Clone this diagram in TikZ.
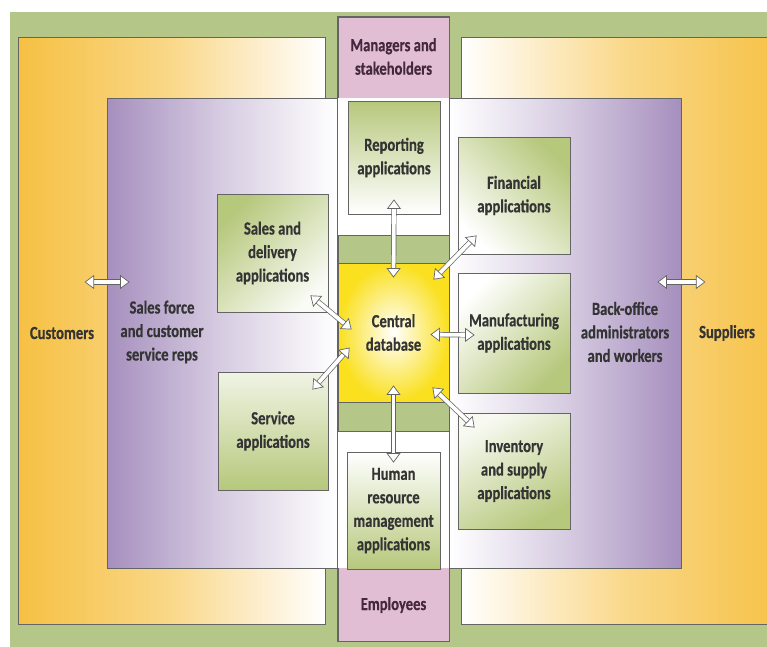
\documentclass[tikz,border=0pt]{standalone}
\usepackage{fontspec}
\setmainfont{Carlito}[FakeStretch=0.79,BoldFeatures={FakeBold=0.5}]
\usetikzlibrary{arrows.meta}

\definecolor{bggreen}{RGB}{180,198,136}
\definecolor{custorange}{RGB}{246,192,66}
\definecolor{salepurple}{RGB}{166,143,190}
\definecolor{staffpink}{RGB}{226,190,213}
\definecolor{appgreen}{RGB}{182,200,124}
\definecolor{dbyellow}{RGB}{250,224,30}
\definecolor{linegray}{RGB}{100,100,100}
\definecolor{txtgray}{RGB}{52,52,52}
\definecolor{txtplum}{RGB}{68,40,62}

\begin{document}
\begin{tikzpicture}
[x=1pt,y=-1pt,
 box/.style={draw=linegray,line width=0.8pt,inner sep=0pt},
 app/.style={box,minimum width=111pt,font=\fontsize{18.5}{23.5}\selectfont\bfseries,text=txtgray,align=center},
 lbl/.style={font=\fontsize{18.5}{23.5}\selectfont\bfseries,text=txtgray,align=center,inner sep=0pt},
 link/.style={draw=linegray,line width=0.7pt,double=white,double distance=3.8pt,{Triangle[fill=white,length=9.5pt,width=14pt,line width'=0.7pt]}-{Triangle[fill=white,length=9.5pt,width=14pt,line width'=0.7pt]}}]
\fill[white] (0,0) rectangle (767,646);
\useasboundingbox (0,0) rectangle (767,646);
\clip (0,0) rectangle (767,646);
\fill[bggreen] (10,12) rectangle (780,660);

% outer partners
\node[box,minimum width=307pt,minimum height=587pt,left color=custorange,right color=white,middle color=custorange!62!white] (custbox) at (171.5,330.5) {};
\node[box,minimum width=329pt,minimum height=587pt,left color=white,right color=custorange,middle color=custorange!62!white] (suppbox) at (625.5,330.5) {};

% staff column
\node[box,fill=staffpink,minimum width=111pt,minimum height=624pt] (staff) at (393.5,329) {};

% front and back office
\node[box,minimum width=231pt,minimum height=470pt,left color=salepurple,right color=white,middle color=salepurple!45!white] (repbox) at (222.5,333) {};
\node[box,minimum width=232pt,minimum height=470pt,left color=white,right color=salepurple,middle color=salepurple!45!white] (backbox) at (565,333) {};
\fill[white] (338,98) rectangle (449,568);
\draw[linegray,line width=0.8pt] (staff.north west) rectangle (staff.south east);

\node[box,fill=bggreen,minimum width=111pt,minimum height=28pt] (bandtop) at (393.5,249) {};
\node[box,fill=bggreen,minimum width=111pt,minimum height=29pt] (bandbot) at (393.5,416.5) {};

% central database
\node[box,minimum width=111pt,minimum height=139pt,inner color=white,outer color=dbyellow,
  font=\fontsize{18.5}{23.5}\selectfont\bfseries,text=txtgray,align=center] (db) at (393.5,332.5) {Central\\database};

% applications
\node[app,minimum width=92pt,minimum height=113pt,top color=appgreen,bottom color=white] (report) at (394,157.5) {Reporting\\applications};
\node[app,minimum width=93pt,minimum height=117pt,top color=white,bottom color=appgreen] (hrm) at (393.5,510.5) {Human\\resource\\management\\applications};
\node[app,minimum height=118pt,top color=appgreen,bottom color=white!92!appgreen,shading angle=45] (sales) at (272.5,253) {Sales and\\delivery\\applications};
\node[app,minimum width=110pt,minimum height=118pt,top color=white!80!appgreen,bottom color=appgreen] (service) at (273,431) {Service\\applications};
\node[app,minimum width=112pt,minimum height=117pt,top color=appgreen,bottom color=white,shading angle=-45] (finance) at (514,195.5) {Financial\\applications};
\node[app,minimum width=112pt,minimum height=120pt,top color=white,bottom color=appgreen,shading angle=45] (mfg) at (514,333) {Manufacturing\\applications};
\node[app,minimum width=112pt,minimum height=116pt,top color=white!90!appgreen,bottom color=appgreen,shading angle=30] (inv) at (514,471) {Inventory\\and supply\\applications};

% labels
\node[lbl,text=txtplum] (managers) at (393.5,56.5) {Managers and\\stakeholders};
\node[lbl,text=txtplum] (employees) at (393.5,605) {Employees};
\node[lbl] (customers) at (62,333) {Customers};
\node[lbl] (salesforce) at (162,332) {Sales force\\and customer\\service reps};
\node[lbl] (backoffice) at (625,332) {Back-office\\administrators\\and workers};
\node[lbl] (suppliers) at (727,333) {Suppliers};

% flows
\draw[link] ([shift={(-22,-51)}]repbox.west) -- ([shift={(23,-51)}]repbox.west);
\draw[link] ([shift={(-24,-51)}]backbox.east) -- ([shift={(24,-51)}]backbox.east);
\draw[link] ([shift={(0,-15)}]report.south) -- ([shift={(0,15)}]db.north);
\draw[link] ([shift={(19,-19)}]finance.south west) -- ([shift={(-16,17)}]db.north east);
\draw[link] ([shift={(-18,-17)}]sales.south east) -- ([shift={(14,-3)}]db.west);
\draw[link] ([shift={(-16,18)}]service.north east) -- ([shift={(12,15)}]db.west);
\draw[link] ([shift={(-19,2)}]db.east) -- ([shift={(17,2)}]mfg.west);
\draw[link] ([shift={(-17,-15)}]db.south east) -- ([shift={(17,15)}]inv.north west);
\draw[link] ([shift={(0,-17)}]db.south) -- ([shift={(0,11)}]hrm.north);
\end{tikzpicture}
\end{document}
